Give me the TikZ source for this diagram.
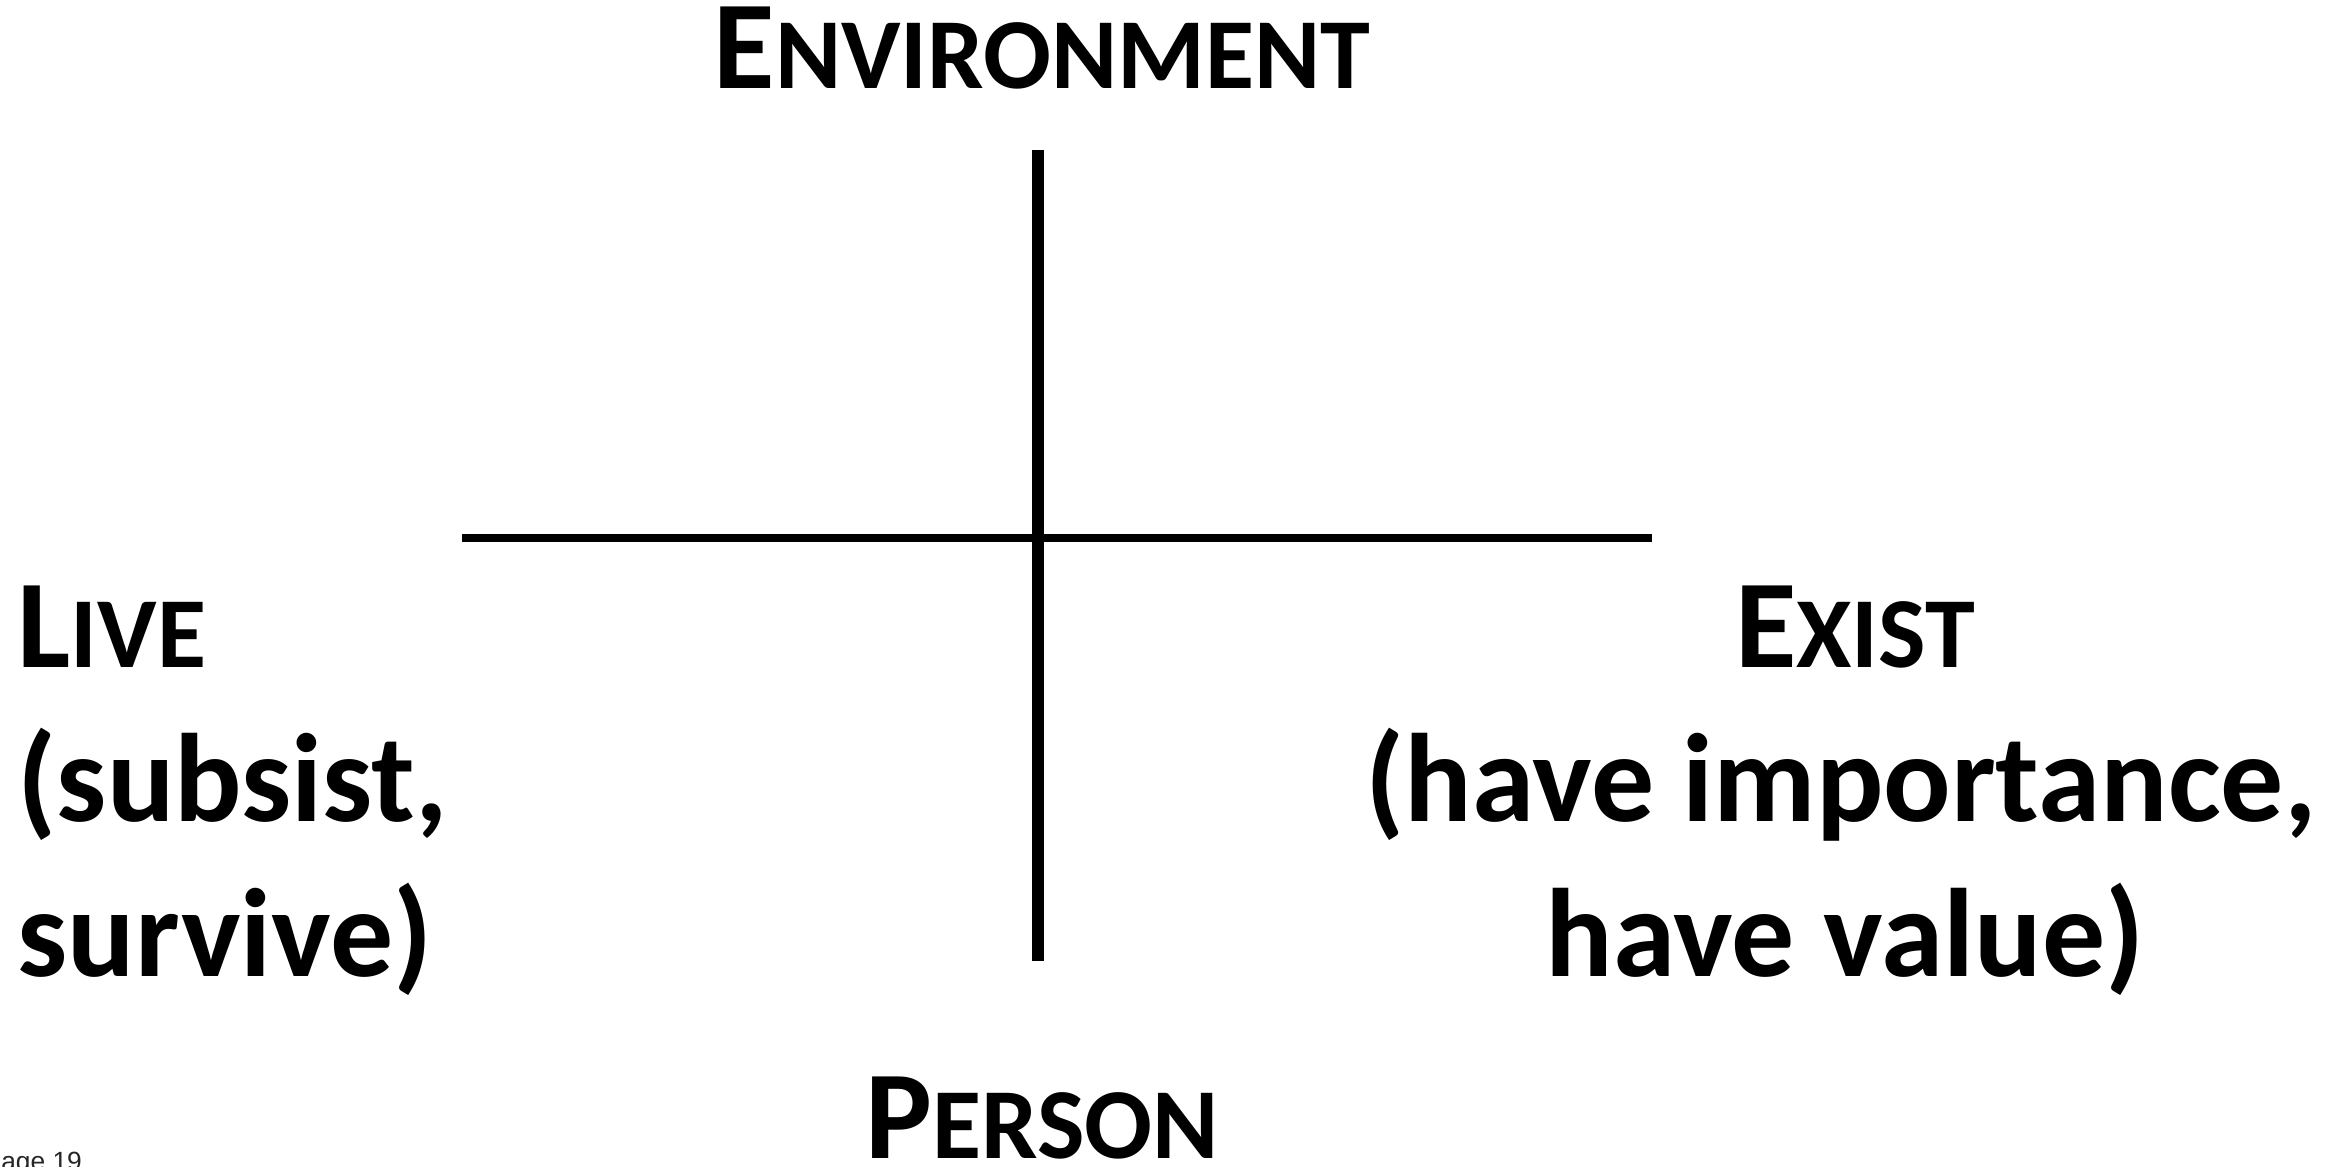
\documentclass[tikz,border=0pt]{standalone}
\usepackage{fontspec}
\setmainfont{Carlito}
\newfontfamily\pagefont{Liberation Sans}
\usetikzlibrary{arrows.meta,positioning}
\newcommand{\capsc}[2]{#1{\fontsize{28.6pt}{28.6pt}\selectfont #2}}

\begin{document}
\begin{tikzpicture}[>=Latex]
  \tikzset{
    word/.style={inner sep=0pt,font=\fontsize{35.8pt}{44pt}\selectfont\bfseries},
    axisline/.style={line cap=butt}
  }
  \useasboundingbox (0,0) rectangle (23.32,11.67);

  % the two axes
  \coordinate (top) at (10.38,10.17);
  \coordinate (bottom) at (10.38,2.06);
  \coordinate (left) at (4.62,6.29);
  \coordinate (right) at (16.52,6.29);
  \draw[axisline,line width=0.12cm] (top) -- (bottom);
  \draw[axisline,line width=0.088cm] (left) -- (right);

  \node[word,anchor=base] (env) at (10.42,10.78) {\capsc{E}{NVIRONMENT}};
  \node[word,anchor=base] (person) at (10.42,0.08) {\capsc{P}{ERSON}};

  \node[word,anchor=base west] (live) at (0.17,4.99) {\capsc{L}{IVE}};
  \node[word,anchor=base west] (live2) at (0.17,3.45) {(subsist,};
  \node[word,anchor=base west] (live3) at (0.17,1.90) {survive)};

  \node[word,anchor=base] (exist) at (18.55,4.99) {\capsc{E}{XIST}};
  \node[word,anchor=base] (exist2) at (18.41,3.45) {(have importance,};
  \node[word,anchor=base] (exist3) at (18.45,1.90) {have value)};

  \node[anchor=base west,inner sep=0pt,font=\pagefont\fontsize{7.5pt}{8pt}\selectfont,black!85] (page) at (-0.17,-0.04) {Page 19};
\end{tikzpicture}
\end{document}
